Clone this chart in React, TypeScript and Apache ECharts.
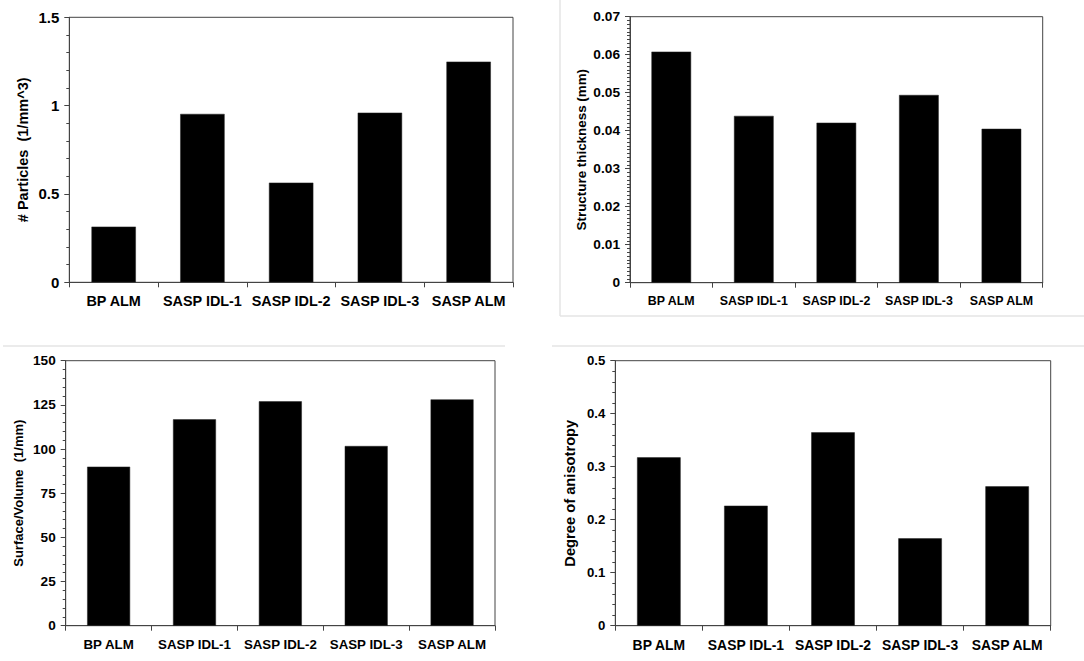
import React, { useEffect, useRef } from "react";
import * as echarts from "echarts";

const categories = ["BP ALM", "SASP IDL-1", "SASP IDL-2", "SASP IDL-3", "SASP ALM"];
const particles = [0.315, 0.953, 0.564, 0.96, 1.249];
const thickness = [0.0608, 0.0439, 0.0421, 0.0494, 0.0405];
const surfaceVolume = [90.0, 116.8, 127.0, 101.7, 128.1];
const anisotropy = [0.3176, 0.2264, 0.3648, 0.1648, 0.2629];

const panels = [
  { name: "# Particles  (1/mm^3)", data: particles, max: 1.5, interval: 0.5, minor: 5, grid: { left: 69.3, top: 17.3, width: 443.7, height: 265 }, nameGap: 39, barWidth: "50%", tickFs: 15, catFs: 14.4, nameFs: 14.5 },
  { name: "Structure thickness (mm)", data: thickness, max: 0.07, interval: 0.01, minor: 10, grid: { left: 630, top: 16.7, width: 412.7, height: 266 }, nameGap: 42, barWidth: "48%", tickFs: 13.7, catFs: 12.4, nameFs: 13.4 },
  { name: "Surface/Volume  (1/mm)", data: surfaceVolume, max: 150, interval: 25, minor: 5, grid: { left: 65.7, top: 360.7, width: 429.3, height: 265 }, nameGap: 41, barWidth: "50%", tickFs: 13.6, catFs: 13.3, nameFs: 13 },
  { name: "Degree of anisotropy", data: anisotropy, max: 0.5, interval: 0.1, minor: 5, grid: { left: 615.3, top: 360.7, width: 435.4, height: 265 }, nameGap: 38, barWidth: "50%", tickFs: 13.2, catFs: 13.9, nameFs: 14.7 },
];

const FONT = "Liberation Sans, Arial, sans-serif";
const AXIS_COLOR = "#444";
const SEP = "#e4e4e4";

export default function App() {
  const ref = useRef<HTMLDivElement>(null);
  useEffect(() => {
    if (!ref.current) return;
    const chart = echarts.init(ref.current, undefined, { renderer: "svg" });
    const option: any = {
      animation: false,
      backgroundColor: "#fff",
      textStyle: { fontFamily: FONT },
      grid: panels.map((p) => ({ ...p.grid, show: true, borderColor: AXIS_COLOR, borderWidth: 1, containLabel: false })),
      xAxis: panels.map((p, i) => ({
        type: "category",
        gridIndex: i,
        data: categories,
        boundaryGap: true,
        axisLine: { lineStyle: { color: AXIS_COLOR, width: 1 } },
        axisTick: { show: true, length: 5, lineStyle: { color: AXIS_COLOR } },
        axisLabel: { color: "#000", fontWeight: "bold", fontSize: p.catFs, fontFamily: FONT, margin: 12, interval: 0 },
      })),
      yAxis: panels.map((p, i) => ({
        type: "value",
        gridIndex: i,
        min: 0,
        max: p.max,
        interval: p.interval,
        name: p.name,
        nameLocation: "middle",
        nameGap: p.nameGap,
        nameRotate: 90,
        nameTextStyle: { color: "#000", fontWeight: "bold", fontSize: p.nameFs, fontFamily: FONT },
        axisLine: { show: true, lineStyle: { color: AXIS_COLOR, width: 1 } },
        axisTick: { show: true, length: 5, lineStyle: { color: AXIS_COLOR } },
        minorTick: { show: true, splitNumber: p.minor, length: 3, lineStyle: { color: AXIS_COLOR } },
        splitLine: { show: false },
        axisLabel: { color: "#000", fontWeight: "bold", fontSize: p.tickFs, fontFamily: FONT, margin: 10 },
      })),
      series: panels.map((p, i) => ({
        type: "bar",
        xAxisIndex: i,
        yAxisIndex: i,
        data: p.data,
        barWidth: p.barWidth,
        itemStyle: { color: "#000", borderColor: "#222", borderWidth: 0.5 },
      })),
      graphic: [
        { type: "line", shape: { x1: 560, y1: 0, x2: 560, y2: 316 }, style: { stroke: SEP, lineWidth: 1.5 } },
        { type: "line", shape: { x1: 560, y1: 316, x2: 1084, y2: 316 }, style: { stroke: SEP, lineWidth: 1.5 } },
        { type: "line", shape: { x1: 3, y1: 346, x2: 505, y2: 346 }, style: { stroke: SEP, lineWidth: 1.5 } },
        { type: "line", shape: { x1: 552, y1: 346, x2: 1084, y2: 346 }, style: { stroke: SEP, lineWidth: 1.5 } },
      ],
    };
    chart.setOption(option);
    return () => chart.dispose();
  }, []);
  return <div ref={ref} style={{ position: "absolute", left: 0, top: 0, width: 1084, height: 661 }} />;
}
